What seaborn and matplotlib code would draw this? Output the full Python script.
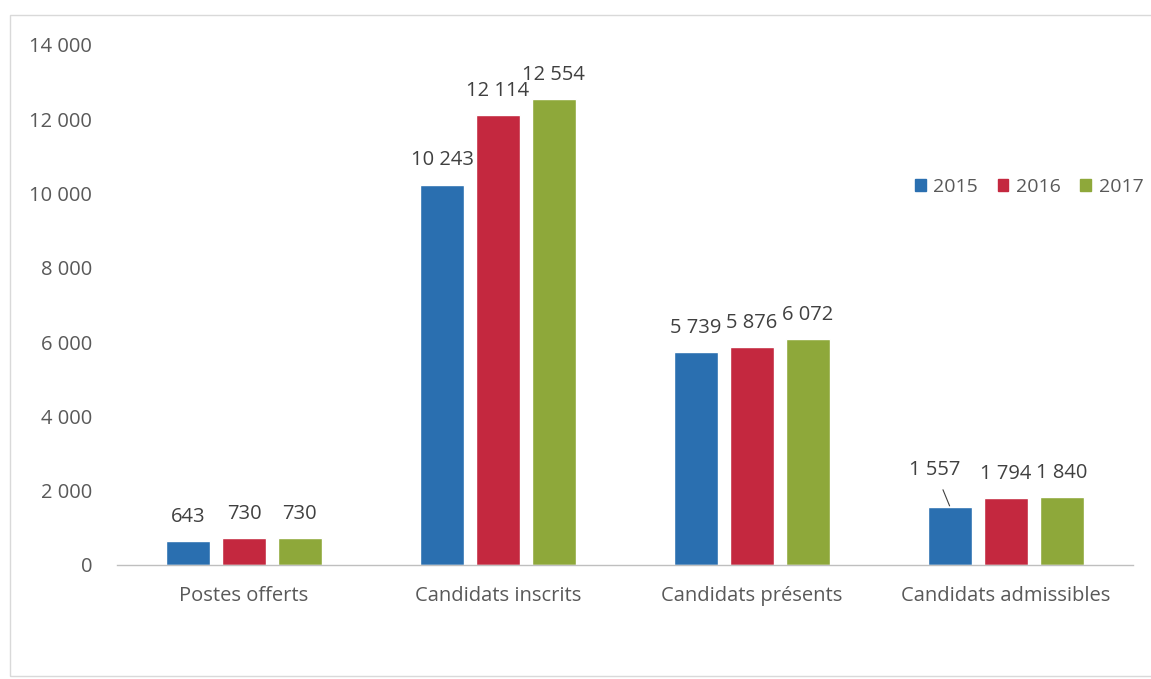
import matplotlib
matplotlib.use("Agg")
import matplotlib.pyplot as plt
import matplotlib.patches as mpatches
import seaborn as sns
import pandas as pd

# chart data
categories = ["Postes offerts", "Candidats inscrits", "Candidats présents", "Candidats admissibles"]
years = ["2015", "2016", "2017"]
values_2015 = [643, 10243, 5739, 1557]
values_2016 = [730, 12114, 5876, 1794]
values_2017 = [730, 12554, 6072, 1840]
yticks = [0, 2000, 4000, 6000, 8000, 10000, 12000, 14000]

colors = ["#2a6fb0", "#c4283f", "#8ea83a"]
text_color = "#595959"
fs = 14.5


def fmt(v):
    # french style thousands separator
    return f"{v:,}".replace(",", " ")


df = pd.DataFrame({
    "categorie": categories * 3,
    "annee": [y for y in years for _ in categories],
    "valeur": values_2015 + values_2016 + values_2017,
})

sns.set_style("white")
plt.rcParams["font.family"] = ["Open Sans", "DejaVu Sans"]

fig = plt.figure(figsize=(11.51, 6.79), dpi=100)
ax = fig.add_axes([117 / 1151, 1 - 565 / 679, 1016 / 1151, 520 / 679])

sns.barplot(data=df, x="categorie", y="valeur", hue="annee", order=categories,
            hue_order=years, palette=colors, width=0.66, gap=0.21,
            saturation=1, ax=ax, legend=False)

ax.set_ylim(0, 14000)
ax.set_xlim(-0.5, len(categories) - 0.5)
ax.set_yticks(yticks)
ax.set_yticklabels([fmt(t) for t in yticks])
ax.set_xlabel("")
ax.set_ylabel("")
ax.tick_params(axis="both", length=0, colors=text_color, labelsize=fs)
ax.tick_params(axis="y", pad=18)
ax.tick_params(axis="x", pad=15)
for side in ["top", "right", "left"]:
    ax.spines[side].set_visible(False)
ax.spines["bottom"].set_color("#bfbfbf")
ax.spines["bottom"].set_linewidth(1.0)

# value labels
for i, cont in enumerate(ax.containers):
    for j, bar in enumerate(cont):
        v = bar.get_height()
        x = bar.get_x() + bar.get_width() / 2
        if i == 0 and j == 3:
            ax.annotate(fmt(int(v)), xy=(x, v), xytext=(x - 0.06, v + 1000),
                        ha="center", va="center", fontsize=fs, color="#404040",
                        arrowprops=dict(arrowstyle="-", color="#404040", lw=0.8,
                                        shrinkA=5, shrinkB=1))
        else:
            ax.text(x, v + 380, fmt(int(v)), ha="center", va="bottom",
                    fontsize=fs, color="#404040")

# legend
handles = [mpatches.Patch(color=c, label=y) for c, y in zip(colors, years)]
fig.legend(handles=handles, loc="center left", bbox_to_anchor=(915 / 1151, 1 - 187 / 679),
           ncol=3, frameon=False, fontsize=14, handlelength=0.55, handleheight=0.55,
           handletextpad=0.4, columnspacing=1.0, labelcolor=text_color,
           borderaxespad=0, borderpad=0)

# chart frame
fig.patches.append(mpatches.Rectangle((10 / 1151, 3 / 679), 1.2, 661 / 679,
                                      transform=fig.transFigure, fill=False,
                                      edgecolor="#d9d9d9", lw=1.0))

fig.savefig("out.png", dpi=100, facecolor="white")
